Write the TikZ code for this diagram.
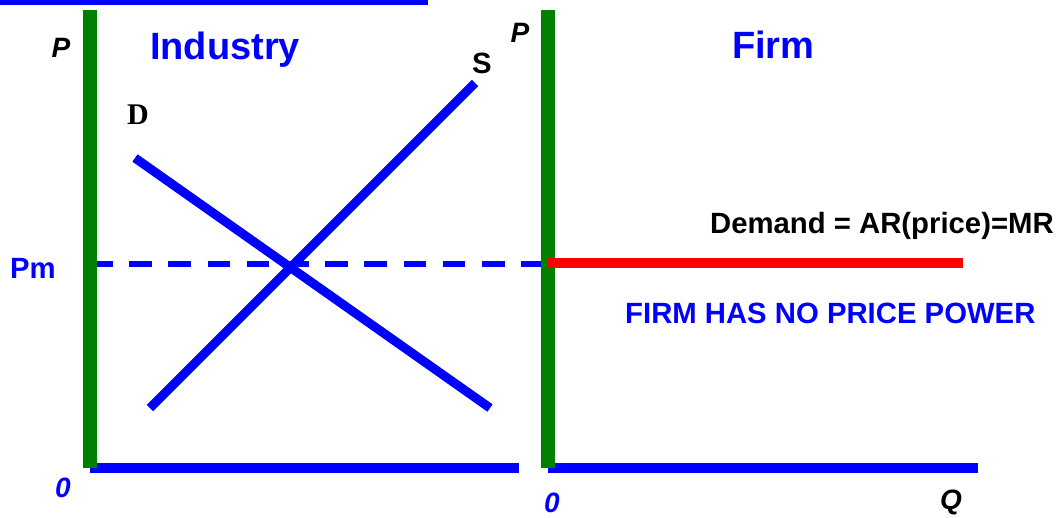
\documentclass[tikz,border=0pt]{standalone}
\usepackage{fontspec}
\setmainfont{Liberation Sans}
\newfontfamily\timesbold{Liberation Serif}
\usepackage{xcolor}
\usepackage{tikz}
\usetikzlibrary{positioning}
\definecolor{axisGreen}{RGB}{0,128,0}
\definecolor{curveBlue}{RGB}{0,0,255}
\definecolor{demandRed}{RGB}{255,0,0}
\tikzset{
    priceAxis/.style={
        draw=axisGreen,
        line width=14pt
    },
    qtyAxis/.style={
        draw=curveBlue,
        line width=10pt
    },
    curveLine/.style={
        draw=curveBlue,
        line width=9pt
    },
    priceDashed/.style={
        draw=curveBlue,
        line width=6.5pt,
        dash pattern=on 22.6pt off 16.6pt
    },
    firmDemand/.style={
        draw=demandRed,
        line width=10pt
    },
    panelTitle/.style={
        text=curveBlue,
        font=\fontsize{38}{40}\selectfont\bfseries,
        inner sep=0pt
    },
    axisLabel/.style={
        font=\fontsize{28}{30}\selectfont\bfseries\itshape,
        inner sep=0pt
    },
    plainLabel/.style={
        font=\fontsize{29.3}{31}\selectfont\bfseries,
        inner sep=0pt
    }
}

\begin{document}
\begin{tikzpicture}[x=1pt,y=-1pt]
        \useasboundingbox (0,0) rectangle (1056,517);

        % cropped heading rule
        \fill[curveBlue] (0,0) rectangle (428,4.5);

        % industry panel
        \coordinate (indTop) at (90,10);
        \coordinate (indOrigin) at (90,468);
        \coordinate (indEnd) at (519,468);
        \coordinate (sLow) at (150,408);
        \coordinate (sHigh) at (475,83);
        \coordinate (dHigh) at (135,158);
        \coordinate (dLow) at (490,408);
        \coordinate (pmLeft) at (90,264);

        % firm panel
        \coordinate (firmTop) at (548,10);
        \coordinate (firmOrigin) at (548,468);
        \coordinate (firmEnd) at (978,468);
        \coordinate (pmRight) at (541,264);
        \coordinate (arStart) at (548,263);
        \coordinate (arEnd) at (963,263);

        \draw[priceDashed] (pmLeft) -- (pmRight);
        \draw[qtyAxis] (indOrigin) -- (indEnd);
        \draw[qtyAxis] (firmOrigin) -- (firmEnd);
        \draw[priceAxis] (indTop) -- (indOrigin);
        \draw[priceAxis] (firmTop) -- (firmOrigin);
        \draw[curveLine] (dHigh) -- (dLow);
        \draw[curveLine] (sLow) -- (sHigh);
        \draw[firmDemand] (arStart) -- (arEnd);

        \node[panelTitle,anchor=base west] (industry) at (150,59) {Industry};
        \node[panelTitle,anchor=base west] (firm) at (732,58) {Firm};
        \node[axisLabel] (pInd) at (61,48) {P};
        \node[axisLabel] (pFirm) at (520,33) {P};
        \node[plainLabel] (sLabel) at (482,63) {S};
        \node[font=\fontsize{30}{32}\selectfont\timesbold\bfseries,inner sep=0pt] (dLabel) at (138,115) {D};
        \node[plainLabel,text=curveBlue,anchor=base west] (pm) at (10,278) {Pm};
        \node[plainLabel,anchor=base west] (arLabel) at (710,233) {Demand = AR(price)=MR};
        \node[plainLabel,text=curveBlue,anchor=base west] (noPower) at (625,323) {FIRM HAS NO PRICE POWER};
        \node[axisLabel,text=curveBlue] (zeroInd) at (63,488) {0};
        \node[axisLabel,text=curveBlue] (zeroFirm) at (552,503) {0};
        \node[axisLabel] (qLabel) at (951,502) {Q};
    \end{tikzpicture}
\end{document}
